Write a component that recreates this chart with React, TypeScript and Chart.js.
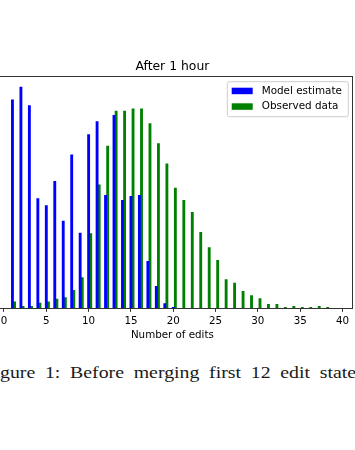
import React, { useEffect, useRef } from "react";
import { Chart, registerables } from "chart.js";

Chart.register(...registerables);

// ---- text ----
const TITLE = "After 1 hour";
const X_LABEL = "Number of edits";
const SERIES_LABELS = ["Model estimate", "Observed data"];
const CAPTION = "Figure 1: Before merging first 12 edit states";

// ---- data ----
const MODEL_EDITS = [1, 2, 3, 4, 5, 6, 7, 8, 9, 10, 11, 12, 13, 14, 15, 16, 17, 18, 19, 20];
const MODEL_VALUES = [
  0.0884, 0.0938, 0.086, 0.0465, 0.0436, 0.0538, 0.037, 0.0651, 0.0319, 0.0737,
  0.0792, 0.0479, 0.0818, 0.0458, 0.0475, 0.0479, 0.0199, 0.0093, 0.002, 0.0004,
];
const OBSERVED_EDITS = [
  1, 2, 3, 4, 5, 6, 7, 8, 9, 10, 11, 12, 13, 14, 15, 16, 17, 18, 19, 20,
  21, 22, 23, 24, 25, 26, 27, 28, 29, 30, 31, 32, 33, 34, 35, 36, 37, 38,
];
const OBSERVED_VALUES = [
  0.0027, 0.0008, 0.0008, 0.0022, 0.0027, 0.0039, 0.0045, 0.0076, 0.013, 0.0317,
  0.0524, 0.0688, 0.0836, 0.0836, 0.0846, 0.0846, 0.0783, 0.0698, 0.0613, 0.051,
  0.0458, 0.0407, 0.0322, 0.0257, 0.0203, 0.0122, 0.0107, 0.0072, 0.0054, 0.0041,
  0.0017, 0.0017, 0.0004, 0.0008, 0.0004, 0.0004, 0.0008, 0.0004,
];
const X_TICKS = [0, 5, 10, 15, 20, 25, 30, 35, 40];

// ---- layout / style ----
const X_MIN = -1.5;
const X_MAX = 41.3;
const BAR_SHIFT = 0.25; // observed bars sit one bar-width to the right
const COLORS = ["#0000ff", "#008000"];
const SANS = "'DejaVu Sans', sans-serif";
const SERIF = "'Liberation Serif', serif";
const CANVAS_LEFT = -40;
const CANVAS_W = 400;
const CANVAS_H = 345;
const CAPTION_SIZE = 16.5;
const CAPTION_SCALE = 1.2;
const CAPTION_SHIFT = -16.5; // hides "Fi" left of the page edge

const decorPlugin = {
  id: "decor",
  afterDraw(chart: any) {
    const { ctx, chartArea } = chart;
    const { left, right, top, bottom } = chartArea;
    ctx.save();
    // spines
    ctx.strokeStyle = "#333";
    ctx.lineWidth = 1;
    ctx.strokeRect(Math.round(left) + 0.5, Math.round(top) + 0.5, Math.round(right - left) - 1, Math.round(bottom - top));
    // title
    ctx.fillStyle = "#000";
    ctx.font = `12.4px ${SANS}`;
    ctx.textAlign = "center";
    ctx.textBaseline = "alphabetic";
    ctx.fillText(TITLE, (left + right) / 2, top - 6.5);
    // legend
    const fw = 121, fh = 35;
    const fx = right - 5.2 - fw;
    const fy = top + 5.7;
    ctx.beginPath();
    const r = 2;
    ctx.moveTo(fx + r, fy);
    ctx.lineTo(fx + fw - r, fy);
    ctx.quadraticCurveTo(fx + fw, fy, fx + fw, fy + r);
    ctx.lineTo(fx + fw, fy + fh - r);
    ctx.quadraticCurveTo(fx + fw, fy + fh, fx + fw - r, fy + fh);
    ctx.lineTo(fx + r, fy + fh);
    ctx.quadraticCurveTo(fx, fy + fh, fx, fy + fh - r);
    ctx.lineTo(fx, fy + r);
    ctx.quadraticCurveTo(fx, fy, fx + r, fy);
    ctx.closePath();
    ctx.fillStyle = "rgba(255,255,255,0.8)";
    ctx.fill();
    ctx.strokeStyle = "#cccccc";
    ctx.stroke();
    ctx.font = `10.4px ${SANS}`;
    ctx.textAlign = "left";
    ctx.textBaseline = "middle";
    chart.data.datasets.forEach((ds: any, i: number) => {
      const py = fy + 6 + i * 15.6;
      ctx.fillStyle = ds.backgroundColor;
      ctx.fillRect(fx + 4.4, py, 21, 6.5);
      ctx.fillStyle = "#000";
      ctx.fillText(ds.label, fx + 34.4, py + 3.3);
    });
    ctx.restore();
  },
};

export default function App() {
  const canvasRef = useRef<HTMLCanvasElement>(null);

  useEffect(() => {
    const yMax = Math.max(...MODEL_VALUES, ...OBSERVED_VALUES) * 1.05;
    const chart = new Chart(canvasRef.current as HTMLCanvasElement, {
      type: "bar",
      data: {
        datasets: [
          {
            label: SERIES_LABELS[0],
            data: MODEL_EDITS.map((x, i) => ({ x, y: MODEL_VALUES[i] })),
            backgroundColor: COLORS[0],
          },
          {
            label: SERIES_LABELS[1],
            data: OBSERVED_EDITS.map((x, i) => ({ x: x + BAR_SHIFT, y: OBSERVED_VALUES[i] })),
            backgroundColor: COLORS[1],
          },
        ],
      } as any,
      options: {
        responsive: false,
        animation: false,
        devicePixelRatio: 1,
        layout: { padding: { top: 76, left: 31.3, right: 6.5, bottom: 0 } },
        datasets: { bar: { grouped: false, barThickness: 2.2 } } as any,
        plugins: { legend: { display: false }, title: { display: false }, tooltip: { enabled: false } },
        scales: {
          x: {
            type: "linear",
            min: X_MIN,
            max: X_MAX,
            offset: false,
            afterBuildTicks: (s: any) => {
              s.ticks = X_TICKS.map((v) => ({ value: v }));
            },
            afterFit: (s: any) => {
              s.height = 36.7;
            },
            grid: {
              display: true,
              drawOnChartArea: false,
              drawTicks: true,
              tickLength: 3.6,
              tickWidth: 1,
              tickColor: "#333",
              offset: false,
            },
            border: { display: false },
            ticks: {
              font: { family: SANS, size: 10.3 },
              color: "#000",
              padding: 3.2,
              maxRotation: 0,
              autoSkip: false,
            },
            title: {
              display: true,
              text: X_LABEL,
              font: { family: SANS, size: 10.3 },
              color: "#000",
              padding: { top: 0, bottom: 3 },
            },
          },
          y: { display: false, min: 0, max: yMax },
        },
      } as any,
      plugins: [decorPlugin],
    });
    return () => chart.destroy();
  }, []);

  return (
    <div
      style={{
        position: "fixed",
        left: 0,
        top: 0,
        width: 355,
        height: 450,
        overflow: "hidden",
        background: "#fff",
      }}
    >
      <canvas
        ref={canvasRef}
        width={CANVAS_W}
        height={CANVAS_H}
        style={{ position: "absolute", left: CANVAS_LEFT, top: 0, width: CANVAS_W, height: CANVAS_H }}
      />
      <div
        style={{
          position: "absolute",
          left: 0,
          top: 364.5,
          whiteSpace: "nowrap",
          fontFamily: SERIF,
          fontSize: CAPTION_SIZE,
          lineHeight: `${CAPTION_SIZE}px`,
          wordSpacing: "4px",
          color: "#1a1a1a",
          transformOrigin: "0 0",
          transform: `translateX(${CAPTION_SHIFT}px) scaleX(${CAPTION_SCALE})`,
        }}
      >
        {CAPTION}
      </div>
    </div>
  );
}
